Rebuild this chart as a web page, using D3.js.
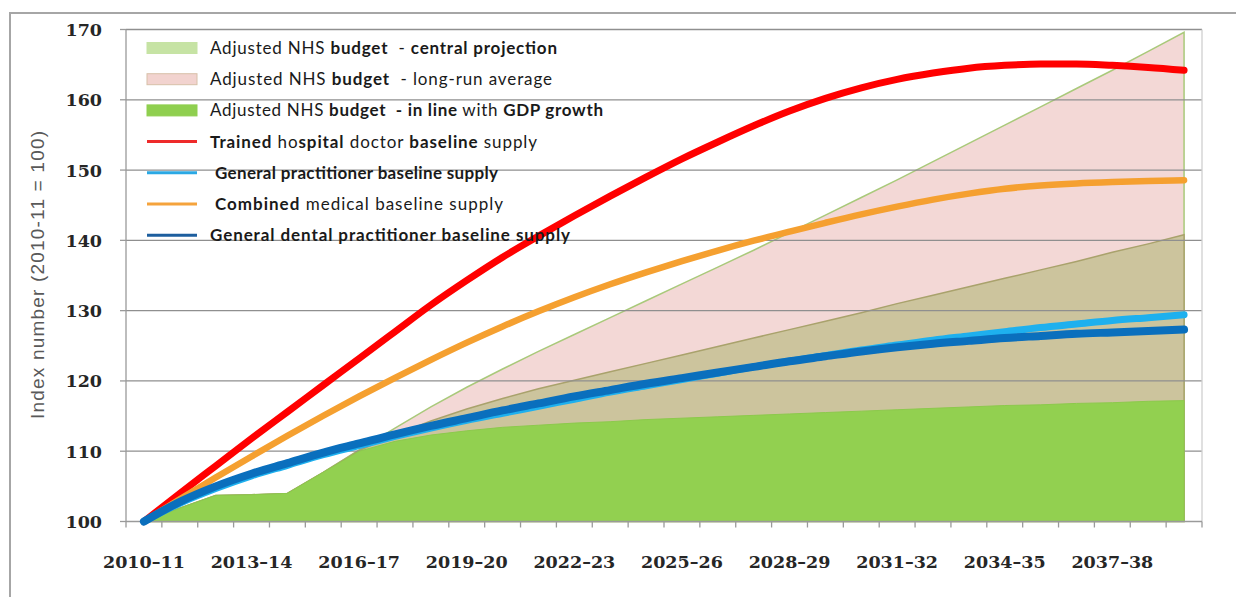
<!DOCTYPE html>
<html>
<head>
<meta charset="utf-8">
<script src="https://cdn.jsdelivr.net/npm/d3@7"></script>
<style>
  body { margin: 0; background: #fff; }
  svg text { white-space: pre; }
</style>
</head>
<body>
<svg width="1236" height="597"></svg>
<script>
const years = ["2010–11","2011–12","2012–13","2013–14","2014–15","2015–16","2016–17","2017–18","2018–19","2019–20",
  "2020–21","2021–22","2022–23","2023–24","2024–25","2025–26","2026–27","2027–28","2028–29","2029–30",
  "2030–31","2031–32","2032–33","2033–34","2034–35","2035–36","2036–37","2037–38","2038–39","2039–40"];
const yTicks = [100, 110, 120, 130, 140, 150, 160, 170];

// budget areas
const longRunAverage = [100, 101.9, 103.7, 103.8, 104.0, 107.0, 110.2, 113.3, 116.3, 119.1,
  121.7, 124.2, 126.6, 129.0, 131.4, 133.8, 136.2, 138.6, 141.1, 143.6,
  146.1, 148.6, 151.2, 153.8, 156.4, 159.0, 161.6, 164.2, 166.9, 169.6];
const centralProjection = [100, 101.9, 103.7, 103.8, 104.0, 107.0, 110.1, 112.3, 114.3, 116.0,
  117.5, 118.9, 120.1, 121.3, 122.5, 123.7, 124.9, 126.1, 127.3, 128.5,
  129.7, 131.0, 132.2, 133.4, 134.6, 135.8, 137.0, 138.3, 139.5, 140.8];
const gdpGrowth = [100, 101.9, 103.7, 103.8, 104.0, 107.0, 110.0, 111.4, 112.3, 112.9,
  113.4, 113.7, 114.0, 114.2, 114.5, 114.7, 114.9, 115.1, 115.3, 115.5,
  115.7, 115.9, 116.1, 116.3, 116.5, 116.6, 116.8, 116.9, 117.1, 117.2];

// baseline supply lines
const hospitalDoctor = [100, 104.0, 107.9, 111.8, 115.6, 119.4, 123.2, 127.0, 130.8, 134.3,
  137.6, 140.6, 143.5, 146.3, 149.0, 151.6, 154.0, 156.3, 158.4, 160.2,
  161.7, 162.9, 163.8, 164.5, 164.9, 165.1, 165.1, 164.9, 164.6, 164.2];
const generalPractitioner = [100, 102.6, 104.7, 106.5, 108.0, 109.5, 110.8, 112.1, 113.3, 114.4,
  115.4, 116.4, 117.4, 118.4, 119.3, 120.2, 121.1, 122.0, 122.8, 123.6,
  124.4, 125.1, 125.8, 126.4, 127.0, 127.6, 128.1, 128.6, 129.0, 129.4];
const combinedMedical = [100, 103.15, 106.25, 109.25, 112.2, 115.05, 117.8, 120.45, 123.0, 125.45,
  127.75, 129.9, 131.9, 133.75, 135.45, 137.05, 138.55, 139.95, 141.25, 142.5,
  143.7, 144.8, 145.8, 146.65, 147.35, 147.8, 148.1, 148.3, 148.45, 148.55];
const dentalPractitioner = [100, 102.8, 105.0, 106.8, 108.3, 109.8, 111.1, 112.4, 113.6, 114.7,
  115.8, 116.8, 117.8, 118.7, 119.6, 120.4, 121.2, 122.0, 122.8, 123.5,
  124.2, 124.8, 125.3, 125.7, 126.1, 126.4, 126.7, 126.9, 127.1, 127.3];

const svg = d3.select("svg");
const plotLeft = 126, plotRight = 1202, plotTop = 29.5, plotBottom = 521.5;

const x = d3.scalePoint().domain(years).range([plotLeft, plotRight]).padding(0.5);
const step = x.step();
const y = d3.scaleLinear().domain([100, 170]).range([plotBottom, plotTop]);

// outer frame
svg.append("rect")
  .attr("x", 10).attr("y", 13).attr("width", 1260).attr("height", 620)
  .attr("fill", "none").attr("stroke", "#a6a6a6").attr("stroke-width", 2);

const area = vals => d3.area()
  .x((d, i) => x(years[i]))
  .y0(y(100))
  .y1(d => y(d))(vals);

svg.append("path").attr("d", area(longRunAverage))
  .attr("fill", "#f3d8d6").attr("stroke", "#a9c97a").attr("stroke-width", 1.5);
svg.append("path").attr("d", area(centralProjection))
  .attr("fill", "#ccc49d").attr("stroke", "#a9a26c").attr("stroke-width", 1.5);

// gridlines
svg.append("g").selectAll("line")
  .data(yTicks.filter(d => d > 100))
  .enter().append("line")
  .attr("x1", plotLeft).attr("x2", plotRight)
  .attr("y1", d => y(d)).attr("y2", d => y(d))
  .attr("stroke", "#8f8f8f").attr("stroke-width", 1.3);

svg.append("path").attr("d", area(gdpGrowth))
  .attr("fill", "#92d050").attr("stroke", "#8cc94c").attr("stroke-width", 1);

// plot border right
svg.append("line")
  .attr("x1", plotRight).attr("x2", plotRight).attr("y1", plotTop).attr("y2", plotBottom)
  .attr("stroke", "#cfcfcf").attr("stroke-width", 1.3);

// axes
svg.append("line")
  .attr("x1", plotLeft).attr("x2", plotRight).attr("y1", plotBottom).attr("y2", plotBottom)
  .attr("stroke", "#9a9a9a").attr("stroke-width", 1.3);
svg.append("line")
  .attr("x1", plotLeft).attr("x2", plotLeft).attr("y1", plotTop).attr("y2", plotBottom)
  .attr("stroke", "#9a9a9a").attr("stroke-width", 1.3);

svg.append("g").selectAll("line")
  .data(d3.range(years.length + 1))
  .enter().append("line")
  .attr("x1", i => plotLeft + i * step).attr("x2", i => plotLeft + i * step)
  .attr("y1", plotBottom).attr("y2", plotBottom + 6)
  .attr("stroke", "#9a9a9a").attr("stroke-width", 1.3);

svg.append("g").selectAll("line")
  .data(yTicks)
  .enter().append("line")
  .attr("x1", plotLeft - 6).attr("x2", plotLeft)
  .attr("y1", d => y(d)).attr("y2", d => y(d))
  .attr("stroke", "#9a9a9a").attr("stroke-width", 1.3);

svg.append("g").selectAll("text")
  .data(yTicks)
  .enter().append("text")
  .attr("x", 102).attr("y", d => y(d) + 6.5)
  .attr("text-anchor", "end")
  .style("font-family", "DejaVu Serif")
  .style("font-weight", "bold")
  .style("font-size", "17.5px")
  .attr("fill", "#262626")
  .text(d => d);

svg.append("g").selectAll("text")
  .data(years.filter((d, i) => i % 3 === 0))
  .enter().append("text")
  .attr("x", d => x(d)).attr("y", 568)
  .attr("text-anchor", "middle")
  .style("font-family", "DejaVu Serif")
  .style("font-weight", "bold")
  .style("font-size", "17.5px")
  .attr("fill", "#262626")
  .text(d => d);

svg.append("text")
  .attr("transform", "translate(44,275) rotate(-90)")
  .attr("text-anchor", "middle")
  .attr("textLength", 288)
  .style("font-family", "Liberation Sans")
  .style("font-size", "19px")
  .attr("fill", "#595959")
  .text("Index number (2010-11 = 100)");

// supply lines
const line = d3.line()
  .x((d, i) => x(years[i]))
  .y(d => y(d))
  .curve(d3.curveMonotoneX);

const series = [
  { vals: hospitalDoctor, color: "#ff0000", w: 7 },
  { vals: generalPractitioner, color: "#1eb0ee", w: 7 },
  { vals: combinedMedical, color: "#f5a030", w: 6.5 },
  { vals: dentalPractitioner, color: "#0a6fbd", w: 8 }
];
series.forEach(s => {
  svg.append("path").attr("d", line(s.vals))
    .attr("fill", "none").attr("stroke", s.color)
    .attr("stroke-width", s.w).attr("stroke-linecap", "round");
});

// legend
const legendItems = [
  { kind: "rect", fill: "#c6e3a4", stroke: "#c6e3a4", width: 347,
    parts: [["Adjusted NHS ", 400], ["budget", 700], ["  - ", 400], ["central projection", 700]] },
  { kind: "rect", fill: "#f2d3cf", stroke: "#d8c0a8", width: 342,
    parts: [["Adjusted NHS ", 400], ["budget", 700], ["  - long-run average", 400]] },
  { kind: "rect", fill: "#8fcf4f", stroke: "#8fcf4f", width: 393,
    parts: [["Adjusted NHS ", 400], ["budget", 700], ["  - in line", 700], [" with ", 400], ["GDP growth", 700]] },
  { kind: "line", color: "#ee2a2a", width: 327,
    parts: [["Trained", 700], [" ho", 400], ["spital", 700], [" doctor", 400], [" baseline", 700], [" supply", 400]] },
  { kind: "line", color: "#2aa8e4", width: 283, dx: 5,
    parts: [["General practitioner baseline supply", 700]] },
  { kind: "line", color: "#f5a33c", width: 288, dx: 5,
    parts: [["Combined", 700], [" medical baseline supply", 400]] },
  { kind: "line", color: "#1d5e9e", width: 360,
    parts: [["General dental practitioner baseline supply", 700]] }
];

const legend = svg.append("g");
legendItems.forEach((item, k) => {
  const cy = 48 + k * 31.2;
  if (item.kind === "rect") {
    legend.append("rect")
      .attr("x", 147).attr("y", cy - 5.5).attr("width", 50).attr("height", 11)
      .attr("fill", item.fill).attr("stroke", item.stroke).attr("stroke-width", 1);
  } else {
    legend.append("line")
      .attr("x1", 147).attr("x2", 197).attr("y1", cy).attr("y2", cy)
      .attr("stroke", item.color).attr("stroke-width", 3);
  }
  const t = legend.append("text")
    .attr("x", 210 + (item.dx || 0)).attr("y", cy + 6)
    .attr("textLength", item.width)
    .style("font-family", "Lato")
    .style("font-size", "17px")
    .attr("fill", "#1a1a1a");
  item.parts.forEach(p => {
    t.append("tspan").style("font-weight", p[1]).text(p[0]);
  });
});
</script>
</body>
</html>
